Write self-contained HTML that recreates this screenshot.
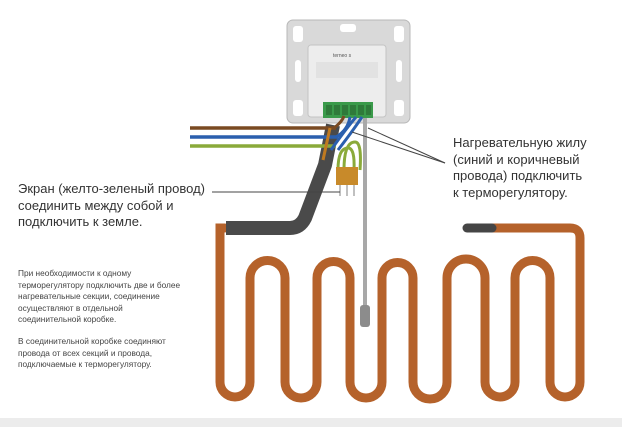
<!DOCTYPE html>
<html><head><meta charset="utf-8"><style>
html,body{margin:0;padding:0;background:#fff;}
body{width:622px;height:427px;overflow:hidden;position:relative;font-family:"Liberation Sans","Noto Sans CJK SC",sans-serif;}
.t{position:absolute;color:#333;white-space:nowrap;}
.big{font-size:13px;line-height:16.5px;}
.sm{font-size:8.3px;line-height:11.5px;color:#444;}
</style></head><body>
<svg width="622" height="427" style="position:absolute;left:0;top:0">
<rect x="0" y="418" width="622" height="9" fill="#ececec"/>
<!-- heating cable serpentine -->
<path d="M225 228 L220 228 Q220 228 220 236 L220 382 A15 15 0 0 0 250 382 L250 278 A17.5 17.5 0 0 1 285 278 L285 382 A16 16 0 0 0 317 382 L317 278 A16.5 16.5 0 0 1 350 278 L350 382 A16 16 0 0 0 382 382 L382 278 A15.5 15.5 0 0 1 413 278 L413 382 A17 17 0 0 0 447 382 L447 278 A19 19 0 0 1 485 278 L485 382 A15 15 0 0 0 515 382 L515 278 A17.5 17.5 0 0 1 550 278 L550 382 A15 15 0 0 0 580 382 L580 238 Q580 228 570 228 L490 228" fill="none" stroke="#b5622b" stroke-width="9" stroke-linecap="round"/>
<line x1="467" y1="228" x2="492" y2="228" stroke="#454545" stroke-width="9" stroke-linecap="round"/>
<!-- grey insulated cold lead -->
<path d="M226 228 L290 228 Q300 228 305 218 L325 165 L333 125" fill="none" stroke="#4a4a4a" stroke-width="14" stroke-linejoin="round"/>
<!-- thermostat frame -->
<rect x="287" y="20" width="123" height="103" rx="6" fill="#d9d9d9" stroke="#b8b8b8"/>
<rect x="293" y="26" width="10" height="16" rx="3" fill="#fff"/>
<rect x="394" y="26" width="10" height="16" rx="3" fill="#fff"/>
<rect x="293" y="100" width="10" height="16" rx="3" fill="#fff"/>
<rect x="394" y="100" width="10" height="16" rx="3" fill="#fff"/>
<rect x="295" y="60" width="6" height="22" rx="3" fill="#fff"/>
<rect x="396" y="60" width="6" height="22" rx="3" fill="#fff"/>
<rect x="340" y="24" width="16" height="8" rx="3" fill="#fff"/>
<rect x="308" y="45" width="78" height="72" rx="3" fill="#ededed" stroke="#c4c4c4"/>
<text x="333" y="57" font-size="5" fill="#555" font-family="Liberation Sans,sans-serif">terneo s</text>
<rect x="316" y="62" width="62" height="16" fill="#e2e2e2"/>
<rect x="323" y="102" width="50" height="16" fill="#3a9a4a"/>
<g fill="#2f7a3a"><rect x="326" y="105" width="6" height="10"/><rect x="334" y="105" width="6" height="10"/><rect x="342" y="105" width="6" height="10"/><rect x="350" y="105" width="6" height="10"/><rect x="358" y="105" width="6" height="10"/><rect x="366" y="105" width="5" height="10"/></g>
<!-- probe tube -->
<line x1="365" y1="118" x2="365" y2="310" stroke="#a8a8a8" stroke-width="4"/>
<rect x="360" y="305" width="10" height="22" rx="3" fill="#8c8c8c"/>
<!-- supply wires -->
<line x1="190" y1="128" x2="336" y2="128" stroke="#7a4a22" stroke-width="3.5"/>
<line x1="190" y1="137" x2="338" y2="137" stroke="#2a5fae" stroke-width="3.5"/>
<line x1="190" y1="146" x2="336" y2="146" stroke="#8aaa3a" stroke-width="3.5"/>
<path d="M334 128 Q342 122 344 116" fill="none" stroke="#7a4a22" stroke-width="3"/>
<path d="M336 137 Q348 130 350 117" fill="none" stroke="#2a5fae" stroke-width="3"/>
<path d="M330 128 L323 160" stroke="#c07a20" stroke-width="3"/>
<path d="M331 150 Q345 130 356 117" fill="none" stroke="#2a5fae" stroke-width="3"/>
<path d="M338 150 Q352 132 362 117" fill="none" stroke="#2a5fae" stroke-width="3"/>
<path d="M338 170 Q338 148 348 148 Q355 148 354 170" fill="none" stroke="#8aaa3a" stroke-width="3"/>
<path d="M344 170 Q344 142 355 142 Q362 142 360 170" fill="none" stroke="#8aaa3a" stroke-width="3"/>
<rect x="336" y="167" width="22" height="18" fill="#c88a2a"/>
<g stroke="#aaa" stroke-width="1.5"><line x1="340" y1="185" x2="340" y2="196"/><line x1="347" y1="185" x2="347" y2="196"/><line x1="354" y1="185" x2="354" y2="196"/></g>
<!-- leaders -->
<line x1="212" y1="192" x2="340" y2="192" stroke="#444" stroke-width="1"/>
<line x1="445" y1="163" x2="352" y2="132" stroke="#444" stroke-width="1"/>
<line x1="445" y1="163" x2="368" y2="128" stroke="#444" stroke-width="1"/>
</svg>
<div class="t big" style="left:18px;top:181px">Экран (желто-зеленый провод)<br>соединить между собой и<br>подключить к земле.</div>
<div class="t big" style="left:453px;top:135px">Нагревательную жилу<br>(синий и коричневый<br>провода) подключить<br>к терморегулятору.</div>
<div class="t sm" style="left:18px;top:268px">При необходимости к одному<br>терморегулятору подключить две и более<br>нагревательные секции, соединение<br>осуществляют в отдельной<br>соединительной коробке.</div>
<div class="t sm" style="left:18px;top:336px">В соединительной коробке соединяют<br>провода от всех секций и провода,<br>подключаемые к терморегулятору.</div>
</body></html>
